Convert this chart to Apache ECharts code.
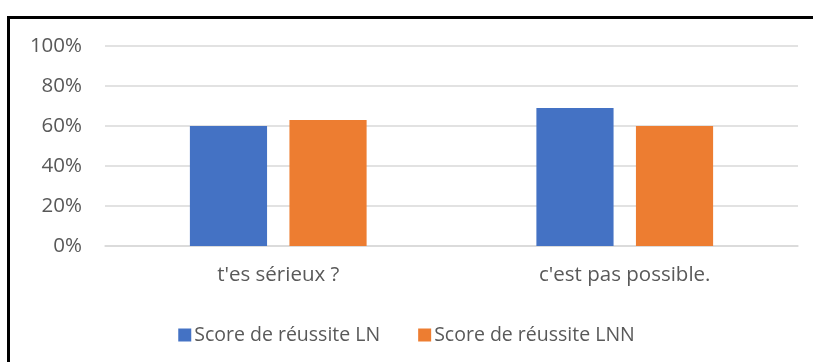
<!DOCTYPE html>
<html>
<head>
<meta charset="utf-8">
<script src="https://cdn.jsdelivr.net/npm/echarts@6/dist/echarts.min.js"></script>
<style>
  html, body { margin: 0; padding: 0; background: #fff; }
  #chart { width: 813px; height: 362px; }
</style>
</head>
<body>
<div id="chart"></div>
<script>
// Phrases tested and success scores per model (fractions of 1)
const categories = ["t'es sérieux ?", "c'est pas possible."];
const scoreLN = [0.60, 0.69];
const scoreLNN = [0.63, 0.60];
const seriesNames = ['Score de réussite LN', 'Score de réussite LNN'];

const font = '"Open Sans", Lato, sans-serif';
const textColor = '#595959';

const chart = echarts.init(document.getElementById('chart'));
chart.setOption({
  animation: false,
  backgroundColor: '#fff',
  graphic: [{
    type: 'rect',
    shape: { x: 8.5, y: 17.5, width: 1000, height: 1000 },
    style: { fill: 'none', stroke: '#000', lineWidth: 3 },
    z: 100
  }],
  grid: { left: 105, right: 15, top: 46, bottom: 116, containLabel: false },
  legend: {
    data: seriesNames,
    left: 'center',
    top: 320,
    itemWidth: 13,
    itemHeight: 13,
    itemGap: 38,
    icon: 'rect',
    textStyle: { color: textColor, fontSize: 19.5, fontFamily: font, padding: [0, 0, 0, -2] }
  },
  xAxis: {
    type: 'category',
    data: categories,
    axisLine: { lineStyle: { color: '#d9d9d9', width: 1.5 } },
    axisTick: { show: false },
    axisLabel: { color: textColor, fontSize: 20.5, fontFamily: font, margin: 19 }
  },
  yAxis: {
    type: 'value',
    min: 0,
    max: 1,
    interval: 0.2,
    axisLine: { show: false },
    axisTick: { show: false },
    splitLine: { lineStyle: { color: '#d9d9d9', width: 1.5 } },
    axisLabel: {
      color: textColor, fontSize: 20.5, fontFamily: font, margin: 23,
      formatter: v => Math.round(v * 100) + '%'
    }
  },
  series: [
    {
      name: seriesNames[0], type: 'bar', data: scoreLN,
      itemStyle: { color: '#4472c4' },
      barGap: '29%', barCategoryGap: '49%'
    },
    {
      name: seriesNames[1], type: 'bar', data: scoreLNN,
      itemStyle: { color: '#ed7d31' },
      barGap: '29%', barCategoryGap: '49%'
    }
  ]
});
</script>
</body>
</html>
